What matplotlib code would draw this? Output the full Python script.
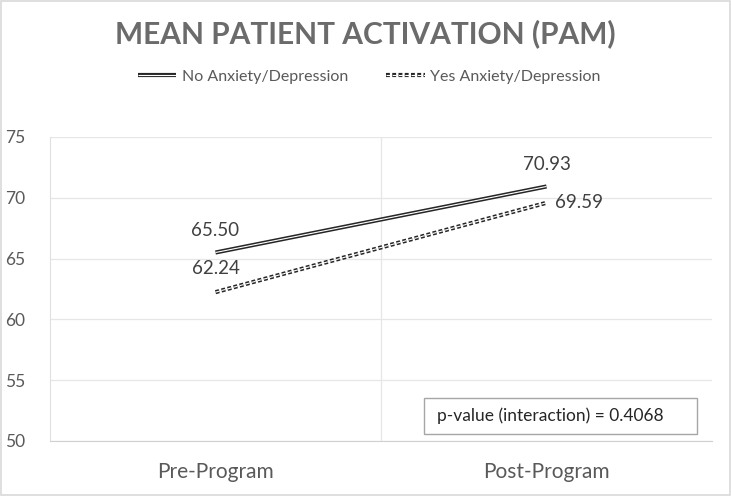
import matplotlib
matplotlib.use("Agg")
import matplotlib.pyplot as plt
import matplotlib.patheffects as pe
from matplotlib.patches import Rectangle

categories = ["Pre-Program", "Post-Program"]
no_anx = [65.50, 70.93]
yes_anx = [62.24, 69.59]
series_names = ["No Anxiety/Depression", "Yes Anxiety/Depression"]
yticks = [50, 55, 60, 65, 70, 75]
title = "MEAN PATIENT ACTIVATION (PAM)"
pval_text = "p-value (interaction) = 0.4068"

plt.rcParams['font.family'] = ['Lato', 'DejaVu Sans']
plt.rcParams['lines.scale_dashes'] = False

fig = plt.figure(figsize=(7.31, 4.96), dpi=100)
ax = fig.add_axes([0.0684, 0.1109, 0.9056, 0.6129])

dark = '#262626'
x = list(range(len(categories)))
l1, = ax.plot(x, no_anx, color='white', lw=0.8, solid_capstyle='butt',
              path_effects=[pe.Stroke(linewidth=3.0, foreground=dark), pe.Normal()],
              label=series_names[0], zorder=3)
l2, = ax.plot(x, yes_anx, color='white', lw=0.8, dashes=(2.8, 1.7),
              dash_capstyle='butt',
              path_effects=[pe.Stroke(linewidth=3.0, foreground=dark), pe.Normal()],
              label=series_names[1], zorder=3)

lab_col = '#404040'
fs_lab = 13.5
ax.annotate(f"{no_anx[0]:.2f}", (x[0], no_anx[0]), xytext=(0, 10), textcoords='offset points',
            ha='center', va='bottom', fontsize=fs_lab, color=lab_col)
ax.annotate(f"{no_anx[1]:.2f}", (x[1], no_anx[1]), xytext=(0, 10), textcoords='offset points',
            ha='center', va='bottom', fontsize=fs_lab, color=lab_col)
ax.annotate(f"{yes_anx[0]:.2f}", (x[0], yes_anx[0]), xytext=(0, 11), textcoords='offset points',
            ha='center', va='bottom', fontsize=fs_lab, color=lab_col)
ax.annotate(f"{yes_anx[1]:.2f}", (x[1], yes_anx[1]), xytext=(6, 0), textcoords='offset points',
            ha='left', va='center', fontsize=fs_lab, color=lab_col)

ax.set_xlim(-0.5, len(categories) - 0.5)
ax.set_ylim(yticks[0], yticks[-1])
ax.set_yticks(yticks)
ax.set_xticks(x)
ax.set_xticklabels(categories)
ax.grid(axis='y', color='#e6e6e6', lw=0.9)
ax.axvline(0.5, color='#e6e6e6', lw=0.9, zorder=0)
ax.set_axisbelow(True)
for s in ['top', 'right']:
    ax.spines[s].set_visible(False)
ax.spines['left'].set_color('#e0e0e0')
ax.spines['bottom'].set_color('#d0d0d0')
ax.tick_params(axis='both', length=0, colors='#595959')
ax.tick_params(axis='y', labelsize=12.5, pad=18)
ax.tick_params(axis='x', labelsize=15, pad=15)

fig.text(0.5, 0.933, title, ha='center', va='center', fontsize=21.5, fontweight='bold', color='#6b6b6b')

leg = fig.legend(handles=[l1, l2], loc='center', bbox_to_anchor=(0.505, 0.845), ncol=2,
                 frameon=False, fontsize=11.5, handlelength=2.4, handletextpad=0.35,
                 columnspacing=2.4, labelcolor='#595959')

ax.add_patch(Rectangle((0.565, 0.023), 0.412, 0.118, transform=ax.transAxes,
                       fc='white', ec='#a6a6a6', lw=1.0, zorder=4))
ax.text(0.585, 0.082, pval_text, transform=ax.transAxes, ha='left', va='center',
        fontsize=12.5, color='#262626', zorder=5)

fig.patches.append(Rectangle((0.002, 0.002), 0.996, 0.996, transform=fig.transFigure,
                             fill=False, ec='#d9d9d9', lw=1.2))

fig.savefig("out.png", dpi=100)
